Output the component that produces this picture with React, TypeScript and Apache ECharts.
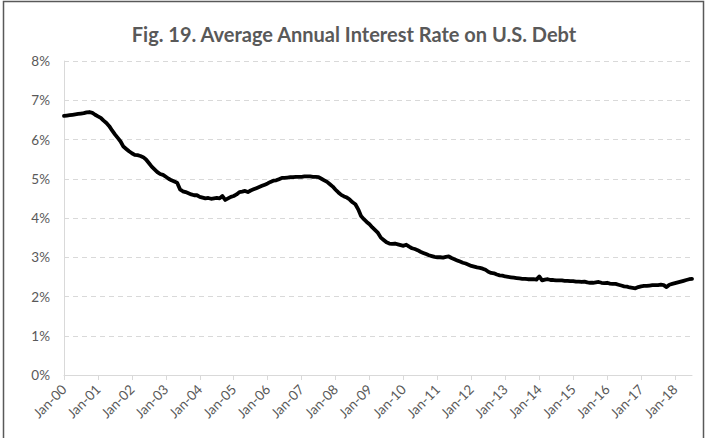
import React, { useEffect, useRef } from "react";
import * as echarts from "echarts";

const MONTHS = ["Jan", "Feb", "Mar", "Apr", "May", "Jun", "Jul", "Aug", "Sep", "Oct", "Nov", "Dec"];
const YEARS = ["00", "01", "02", "03", "04", "05", "06", "07", "08", "09", "10", "11", "12", "13", "14", "15", "16", "17", "18"];

const rate2000 = [6.60, 6.61, 6.62, 6.63, 6.64, 6.65, 6.66, 6.67, 6.69, 6.70, 6.68, 6.63];
const rate2001 = [6.59, 6.55, 6.48, 6.42, 6.34, 6.23, 6.13, 6.04, 5.95, 5.82, 5.76, 5.70];
const rate2002 = [5.65, 5.61, 5.60, 5.58, 5.55, 5.49, 5.40, 5.31, 5.24, 5.17, 5.12, 5.10];
const rate2003 = [5.05, 5.00, 4.96, 4.93, 4.90, 4.73, 4.68, 4.66, 4.63, 4.60, 4.58, 4.58];
const rate2004 = [4.54, 4.52, 4.50, 4.51, 4.49, 4.50, 4.51, 4.50, 4.56, 4.46, 4.50, 4.54];
const rate2005 = [4.56, 4.60, 4.66, 4.67, 4.69, 4.66, 4.70, 4.73, 4.76, 4.79, 4.82, 4.85];
const rate2006 = [4.88, 4.92, 4.95, 4.96, 4.99, 5.02, 5.02, 5.03, 5.04, 5.04, 5.05, 5.05];
const rate2007 = [5.05, 5.06, 5.06, 5.06, 5.05, 5.05, 5.04, 5.00, 4.96, 4.92, 4.86, 4.80];
const rate2008 = [4.72, 4.65, 4.59, 4.55, 4.52, 4.47, 4.40, 4.35, 4.22, 4.05, 3.97, 3.90];
const rate2009 = [3.84, 3.76, 3.69, 3.62, 3.50, 3.44, 3.38, 3.35, 3.34, 3.35, 3.33, 3.31];
const rate2010 = [3.29, 3.32, 3.27, 3.23, 3.21, 3.18, 3.14, 3.11, 3.08, 3.05, 3.03, 3.01];
const rate2011 = [3.00, 3.00, 2.99, 3.01, 3.02, 2.98, 2.95, 2.92, 2.89, 2.86, 2.84, 2.81];
const rate2012 = [2.78, 2.76, 2.74, 2.73, 2.71, 2.68, 2.63, 2.60, 2.59, 2.56, 2.54, 2.53];
const rate2013 = [2.51, 2.50, 2.49, 2.48, 2.47, 2.46, 2.45, 2.45, 2.44, 2.44, 2.44, 2.43];
const rate2014 = [2.51, 2.41, 2.43, 2.44, 2.42, 2.42, 2.41, 2.41, 2.41, 2.40, 2.40, 2.39];
const rate2015 = [2.39, 2.38, 2.38, 2.37, 2.38, 2.36, 2.35, 2.35, 2.36, 2.37, 2.35, 2.34];
const rate2016 = [2.35, 2.33, 2.32, 2.32, 2.30, 2.28, 2.26, 2.25, 2.23, 2.22, 2.21, 2.24];
const rate2017 = [2.26, 2.27, 2.27, 2.28, 2.29, 2.29, 2.29, 2.30, 2.29, 2.24, 2.30, 2.32];
const rate2018 = [2.34, 2.36, 2.38, 2.40, 2.42, 2.44, 2.45];

const rates = [
  ...rate2000, ...rate2001, ...rate2002, ...rate2003, ...rate2004, ...rate2005,
  ...rate2006, ...rate2007, ...rate2008, ...rate2009, ...rate2010, ...rate2011,
  ...rate2012, ...rate2013, ...rate2014, ...rate2015, ...rate2016, ...rate2017, ...rate2018,
];

const categories = YEARS.flatMap((y) => MONTHS.map((m) => `${m}-${y}`)).slice(0, rates.length);

const TITLE = "Fig. 19. Average Annual Interest Rate on U.S. Debt";

export default function App() {
  const ref = useRef<HTMLDivElement>(null);
  useEffect(() => {
    document.body.style.margin = "0";
    const chart = echarts.init(ref.current!, null, { renderer: "svg" });
    chart.setOption({
      animation: false,
      backgroundColor: "#ffffff",
      title: {
        text: TITLE,
        left: "center",
        top: 19,
        textStyle: { fontFamily: "Lato", fontWeight: "bold", fontSize: 20, color: "#595959" },
      },
      graphic: [
        {
          type: "rect",
          shape: { x: 3.5, y: 1.5, width: 700, height: 440 },
          style: { fill: "none", stroke: "#595959", lineWidth: 1.5 },
          silent: true,
        },
      ],
      grid: { left: 64, right: 16, top: 61, bottom: 63 },
      xAxis: {
        type: "category",
        data: categories,
        boundaryGap: false,
        axisLine: { show: true, lineStyle: { color: "#d9d9d9", width: 1 } },
        axisTick: { show: true, interval: 11, length: 5, lineStyle: { color: "#d9d9d9" } },
        axisLabel: {
          interval: 11,
          rotate: 45,
          margin: 12,
          color: "#595959",
          fontFamily: "Lato",
          fontSize: 13.5,
        },
        splitLine: { show: false },
      },
      yAxis: {
        type: "value",
        min: 0,
        max: 8,
        interval: 1,
        axisLine: { show: true, lineStyle: { color: "#d9d9d9", width: 1 } },
        axisTick: { show: false },
        axisLabel: {
          formatter: "{value}%",
          color: "#595959",
          fontFamily: "Lato",
          fontSize: 13.5,
          margin: 14,
        },
        splitLine: { show: true, lineStyle: { color: "#d9d9d9", type: [5, 4], width: 1 } },
      },
      series: [
        {
          type: "line",
          data: rates,
          showSymbol: false,
          symbol: "none",
          lineStyle: { color: "#000000", width: 3.8, join: "round", cap: "round" },
          itemStyle: { color: "#000000" },
        },
      ],
    });
    return () => chart.dispose();
  }, []);
  return (
    <div
      ref={ref}
      style={{ position: "absolute", left: 0, top: 0, width: 708, height: 438 }}
    />
  );
}
